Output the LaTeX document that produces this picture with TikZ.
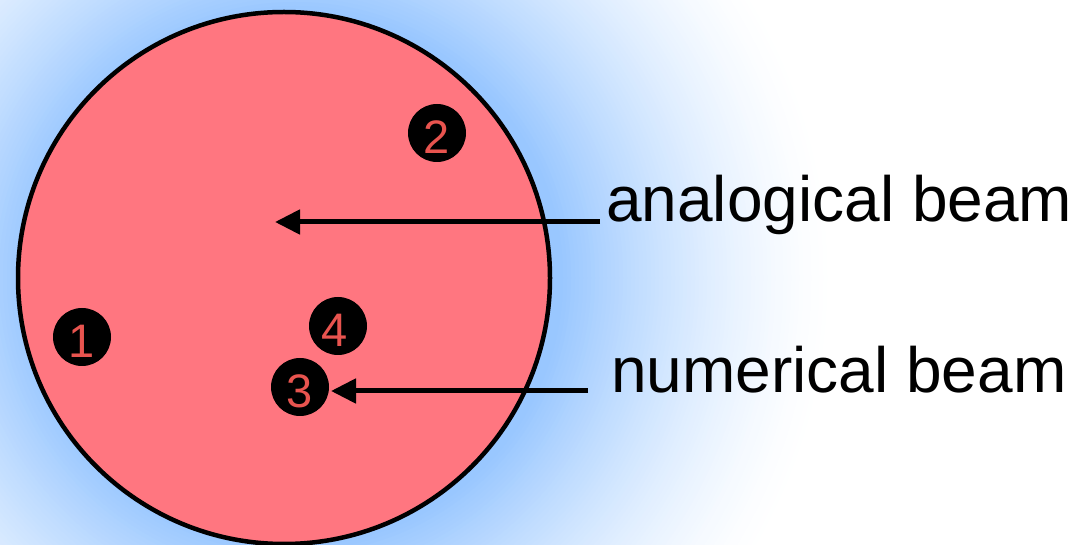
\documentclass[tikz,border=0pt]{standalone}
\usepackage{fontspec}
\setmainfont{Liberation Sans}
\usetikzlibrary{arrows.meta}
\definecolor{pinkfill}{RGB}{255,118,128}
\definecolor{digitred}{RGB}{232,84,79}
\definecolor{glowblue}{RGB}{153,199,255}
\tikzset{
  bigdisc/.style={circle, draw=black, line width=4.5pt, fill=pinkfill, minimum size=532pt, inner sep=0pt},
  marker/.style={circle, fill=black, minimum size=58pt, inner sep=0pt},
  digit/.style={text=digitred, font=\fontsize{47}{50}\selectfont, inner sep=0pt},
  caption/.style={anchor=base west, inner sep=0pt, font=\fontsize{64}{70}\selectfont},
  arr/.style={line width=5pt, -{Triangle[length=25pt,width=24pt]}}
}
\begin{document}
\begin{tikzpicture}[x=1pt,y=-1pt]
\useasboundingbox (0,0) rectangle (1077,545);
\fill[white] (0,0) rectangle (1077,545);
\begin{scope}
  \clip (0,0) rectangle (1077,545);
  \foreach \r in {560,556,...,264} {
    \pgfmathsetmacro\p{100*(max(540-\r,0.01)/272)^1.5}
    \pgfmathsetmacro\q{min(\p,100)}
    \fill[glowblue!\q!white] (295,278) circle (\r);
  }
\end{scope}
\node[bigdisc] (disc) at (284,278) {};
\node[marker] (m1) at (82,337) {};
\node[marker] (m2) at (437,133) {};
\node[marker] (m3) at (300,387) {};
\node[marker] (m4) at (338,326) {};
\node[digit] (d1) at ([yshift=-4pt]m1.center) {1};
\node[digit] (d2) at ([yshift=-4pt]m2.center) {2};
\node[digit] (d3) at ([yshift=-4pt]m3.center) {3};
\node[digit] (d4) at ([xshift=-3pt,yshift=-4pt]m4.center) {4};
\node[caption] (ta) at (606,222) {analogical beam};
\node[caption] (tn) at (611,392) {numerical beam};
\coordinate (tipA) at (275,222);
\coordinate (tailA) at (600,222);
\coordinate (tailN) at (588,391);
\coordinate (tipN) at (331,391);
\draw[arr] (tailA) -- (tipA);
\draw[arr] (tailN) -- (tipN);
\end{tikzpicture}
\end{document}
